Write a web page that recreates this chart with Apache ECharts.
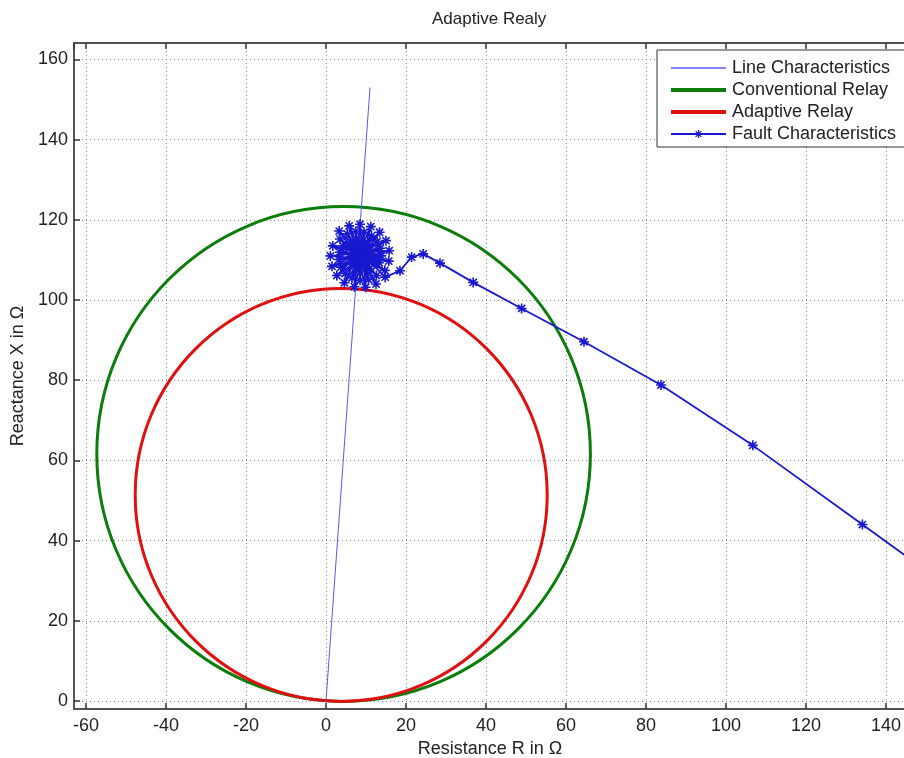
<!DOCTYPE html>
<html>
<head>
<meta charset="utf-8">
<script src="https://cdn.jsdelivr.net/npm/echarts@6/dist/echarts.min.js"></script>
<style>
  html, body { margin: 0; padding: 0; background: #fff; }
  #relay_con { width: 904px; height: 758px; }
</style>
</head>
<body>
<div id="relay_con"></div>
<script>
// impedance plane: line, relay circles and the fault trajectory
var lineChar = [[0, 0], [11, 153]];

// mho circles: [centre R, centre X, radius]
var conventionalRelay = [[4.4, 61.6, 61.7]];
var adaptiveRelay = [[3.8, 51.4, 51.5]];

// fault trajectory (far load point first, then the spiral)
var faultTail = [
    [166, 21], [134.1, 44], [106.7, 63.75], [83.75, 78.8], [64.5, 89.6],
    [48.9, 97.9], [36.8, 104.4], [28.5, 109.2], [24.3, 111.5], [21.4, 110.7], [18.5, 107.3]
];
var faultSpiral = [
    [14.8, 105.7], [3.3, 117.2], [12.5, 104.0], [5.8, 118.5], [9.9, 103.2], [8.5, 118.9],
    [7.1, 103.3], [11.2, 118.3], [4.6, 104.3], [13.4, 116.9], [2.7, 106.1], [15.0, 114.8],
    [1.5, 108.4], [15.8, 112.3], [1.1, 111.0], [15.7, 109.7], [1.7, 113.5], [14.7, 107.4],
    [3.5, 115.2], [12.6, 106.1], [5.3, 116.5], [10.6, 105.1], [7.4, 117.1], [8.5, 104.9],
    [9.5, 116.9], [6.5, 105.5], [11.4, 116.0], [4.8, 106.6], [12.8, 114.6], [3.7, 108.2],
    [13.6, 112.9], [3.2, 110.1], [13.8, 111.0], [3.4, 111.9], [13.3, 109.3], [4.2, 113.5],
    [12.9, 109.8], [5.0, 113.5], [10.8, 107.7], [7.5, 114.6], [8.2, 107.6], [9.8, 113.8],
    [6.5, 109.0], [10.8, 112.1], [6.3, 110.8],
    [12.0, 109.0], [6.0, 113.9], [9.7, 107.6], [8.5, 114.4], [7.4, 107.9], [10.5, 113.3],
    [6.0, 109.6], [11.2, 111.5], [6.0, 111.4],
    [9.5, 109.3], [8.2, 112.8], [8.2, 109.4], [9.2, 112.3], [7.5, 110.2], [9.6, 111.4],
    [7.6, 111.0], [9.2, 110.7], [8.0, 111.4], [8.5, 111.0]
];

var xRange = [-63, 145];
var yRange = [-2, 164.1];

var star = 'path://M-0.8,-5h1.6v10h-1.6z M-5,-0.8h10v1.6h-10z ' +
    'M-3.03,-4.17L4.17,3.03L3.03,4.17L-4.17,-3.03Z M3.03,-4.17L4.17,-3.03L-3.03,4.17L-4.17,3.03Z';
var font = 'Liberation Sans';
var lineBlue = '#5858ff', faultBlue = '#1818d0', green = '#0a7d0a', red = '#e01010';

function circleItem(color) {
    return function (params, api) {
        var c = api.coord([api.value(0), api.value(1)]);
        var s = api.size([api.value(2), api.value(2)]);
        return {
            type: 'ellipse',
            shape: { cx: c[0], cy: c[1], rx: s[0], ry: s[1] },
            style: { fill: 'none', stroke: color, lineWidth: 3 }
        };
    };
}

var chart = echarts.init(document.getElementById('relay_con'));
var axisLine = { show: true, onZero: false, lineStyle: { color: '#555', width: 2 } };
var tick = { inside: true, length: 6, lineStyle: { color: '#333', width: 1.5 } };
var grid = { show: true, lineStyle: { color: '#888', type: [1, 3], width: 1 } };
var option = {
    animation: false,
    backgroundColor: '#fff',
    title: {
        text: 'Adaptive Realy', left: 427, top: 6,
        textStyle: { fontFamily: font, fontSize: 17, fontWeight: 'normal', color: '#222' }
    },
    legend: {
        orient: 'vertical', left: 657, top: 50,
        padding: [9, 30, 4, 13], itemGap: 4, itemWidth: 55, itemHeight: 10,
        borderColor: '#333', borderWidth: 1, backgroundColor: '#fff',
        textStyle: { fontFamily: font, fontSize: 18, color: '#222', padding: [0, 0, 0, 1] },
        data: [
            { name: 'Line Characteristics', icon: 'path://M0,0H55V1.4H0Z', itemStyle: { color: lineBlue, borderWidth: 0 } },
            { name: 'Conventional Relay', icon: 'path://M0,0H55V4H0Z', itemStyle: { color: green, borderWidth: 0 } },
            { name: 'Adaptive Relay', icon: 'path://M0,0H55V4H0Z', itemStyle: { color: red, borderWidth: 0 } },
            { name: 'Fault Characteristics' }
        ]
    },
    grid: { left: 74, right: -2, top: 43, bottom: 49, outerBoundsMode: 'none', containLabel: false },
    xAxis: [{
        type: 'value', min: xRange[0], max: xRange[1], splitNumber: 10, minInterval: 20, maxInterval: 20,
        name: 'Resistance R in Ω', nameLocation: 'middle', nameGap: 31,
        nameTextStyle: { fontFamily: font, fontSize: 18, color: '#222' },
        axisLine: axisLine, axisTick: tick,
        axisLabel: { showMinLabel: false, showMaxLabel: false, margin: 8, fontFamily: font, fontSize: 18, color: '#222' },
        splitLine: grid
    }, {
        type: 'value', position: 'top', min: xRange[0], max: xRange[1], splitNumber: 10, minInterval: 20, maxInterval: 20,
        axisLine: axisLine, axisTick: tick,
        axisLabel: { show: false },
        splitLine: { show: false }
    }],
    yAxis: {
        type: 'value', min: yRange[0], max: yRange[1], splitNumber: 8, minInterval: 20, maxInterval: 20,
        name: 'Reactance X in Ω', nameLocation: 'middle', nameGap: 43,
        nameTextStyle: { fontFamily: font, fontSize: 18, color: '#222' },
        axisLine: axisLine, axisTick: tick,
        axisLabel: { showMinLabel: false, showMaxLabel: false, margin: 6, fontFamily: font, fontSize: 18, color: '#222' },
        splitLine: grid
    },
    series: [{
        name: 'Line Characteristics', type: 'line', data: lineChar,
        symbol: 'none', lineStyle: { color: lineBlue, width: 1 }, itemStyle: { color: lineBlue }
    }, {
        name: 'Conventional Relay', type: 'custom', data: conventionalRelay,
        itemStyle: { color: green }, renderItem: circleItem(green), z: 3
    }, {
        name: 'Adaptive Relay', type: 'custom', data: adaptiveRelay,
        itemStyle: { color: red }, renderItem: circleItem(red), z: 3
    }, {
        name: 'Fault Characteristics', type: 'line', data: faultTail.concat(faultSpiral),
        symbol: star, symbolSize: 10, showAllSymbol: true,
        lineStyle: { color: faultBlue, width: 1.8 }, itemStyle: { color: faultBlue }, z: 4
    }]
};
chart.setOption(option);
window.addEventListener('resize', function () {
    chart.resize();
});
</script>
</body>
</html>
